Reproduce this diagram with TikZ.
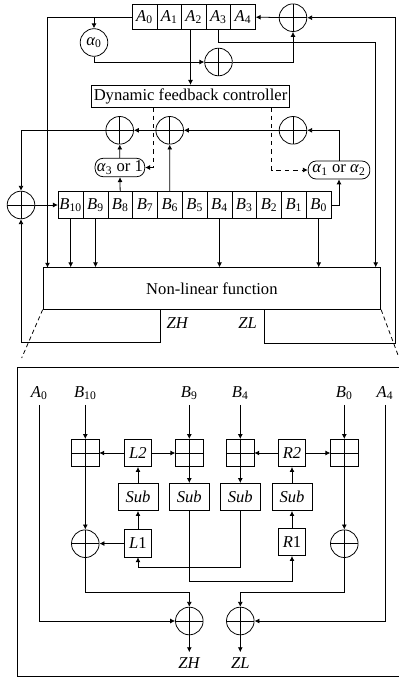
\documentclass[tikz,border=0pt]{standalone}
\usepackage{fontspec}
\setmainfont{Liberation Serif}
\usetikzlibrary{arrows.meta}
\newcommand{\Sb}[2]{\textit{#1}\textsubscript{#2}}
\tikzset{
  every node/.style={font=\fontsize{11.8}{14}\selectfont},
  every path/.style={line width=0.55pt},
  >={Latex[length=3.5pt,width=3.5pt]},
  cella/.style={draw,inner sep=0pt,minimum width=0.615cm,minimum height=0.625cm},
  cellb/.style={draw,inner sep=0pt,minimum width=0.62cm,minimum height=0.665cm},
  xor/.style={draw,circle,inner sep=0pt,minimum size=0.69cm,path picture={
    \draw (path picture bounding box.north) -- (path picture bounding box.south);
    \draw (path picture bounding box.west) -- (path picture bounding box.east);}},
  addbox/.style={draw,inner sep=0pt,minimum size=0.68cm,path picture={
    \draw (path picture bounding box.north) -- (path picture bounding box.south);
    \draw (path picture bounding box.west) -- (path picture bounding box.east);}},
  keybox/.style={draw,inner sep=0pt,minimum size=0.68cm},
  subbox/.style={draw,inner sep=0pt,minimum width=1cm,minimum height=0.68cm},
  mulbox/.style={draw,inner sep=0pt,rounded corners=2mm},
  zoomline/.style={dash pattern=on 3pt off 2.2pt}
}
\begin{document}
\begin{tikzpicture}[x=0.025cm,y=-0.025cm]
      \useasboundingbox (0,0) rectangle (399,680);

      \node[cella] (a0) at (144.6,17){\Sb{A}{0}};
      \node[cella] (a1) at (169.2,17){\Sb{A}{1}};
      \node[cella] (a2) at (193.8,17){\Sb{A}{2}};
      \node[cella] (a3) at (218.4,17){\Sb{A}{3}};
      \node[cella] (a4) at (243,17){\Sb{A}{4}};

      \node[cellb] (b10) at (70.7,205){\Sb{B}{10}};
      \node[cellb] (b9) at (95.5,205){\Sb{B}{9}};
      \node[cellb] (b8) at (120.3,205){\Sb{B}{8}};
      \node[cellb] (b7) at (145.1,205){\Sb{B}{7}};
      \node[cellb] (b6) at (169.9,205){\Sb{B}{6}};
      \node[cellb] (b5) at (194.7,205){\Sb{B}{5}};
      \node[cellb] (b4) at (219.5,205){\Sb{B}{4}};
      \node[cellb] (b3) at (244.3,205){\Sb{B}{3}};
      \node[cellb] (b2) at (269.1,205){\Sb{B}{2}};
      \node[cellb] (b1) at (293.9,205){\Sb{B}{1}};
      \node[cellb] (b0) at (318.7,205){\Sb{B}{0}};

      \node[xor] (xort) at (293,17.7){};
      \node[xor] (xors) at (218.5,62){};
      \node[xor] (xorl) at (119.7,130.3){};
      \node[xor] (xorm) at (169.7,130.3){};
      \node[xor] (xorr) at (293,130.3){};
      \node[xor] (xorb) at (21,205){};
      \node[draw,circle,inner sep=0pt,minimum size=0.69cm] (alpha0) at (94,42.5){\textit{α}\textsubscript{0}};
      \node[draw,inner sep=0pt,minimum width=4.96cm,minimum height=0.55cm] (ctrl) at (190.5,96.3){Dynamic feedback controller};
      \node[mulbox,minimum width=1.24cm,minimum height=0.46cm] (alpha3) at (119.9,167.5){\Sb{α}{3} or 1};
      \node[mulbox,minimum width=1.54cm,minimum height=0.45cm] (alpha1) at (339,170){\Sb{α}{1} or \Sb{α}{2}};
      \node[draw,inner sep=0pt,minimum width=8.44cm,minimum height=1.04cm] (nlf) at (211.9,288.5){Non-linear function};
      \node (zhtop) at (177.7,323.3){\textit{ZH}};
      \node (zltop) at (247.7,323.3){\textit{ZL}};

      \coordinate (in0) at (47.5,267.7);
      \coordinate (a3r) at (375.7,42.3);
      \coordinate (dash1) at (153,107.3);
      \coordinate (dash2) at (271.7,107.3);
      \coordinate (zh) at (160.3,309.3);
      \coordinate (zhl) at (21,342.3);
      \coordinate (zl) at (264.3,309.3);
      \coordinate (zlr) at (395.7,343.3);
      \coordinate (zoom1) at (21.7,358);
      \coordinate (zoom2) at (398,355);

      \draw[->] (xort) -- (a4);
      \draw[->] (a0.west) -| (in0);
      \draw[->] (alpha0 |- a0.west) -- (alpha0);
      \draw[->] (alpha0) |- (xors);
      \draw[->] (xors) -| (xort);
      \draw[->] (a2.south -| ctrl.north) -- (ctrl.north);
      \draw[->] (a3.south) |- (a3r) -- (a3r |- nlf.north);
      \draw[->] (zl) |- (zlr) |- (xort);
      \draw[->] (zh) |- (zhl) -- (xorb);
      \draw[->] (xorr) -- (xorm);
      \draw[->] (xorm) -- (xorl);
      \draw[->] (xorl) -| (xorb);
      \draw[->] (xorb) -- (b10);
      \draw[->] (alpha3) -- (xorl);
      \draw[->] (b8) -- (alpha3);
      \draw[->] (b6) -- (xorm);
      \draw[->] (alpha1) |- (xorr);
      \draw[->] (b0.east) -| (alpha1);
      \draw[->,dashed] (dash1) |- (alpha3);
      \draw[->,dashed] (dash2) |- (alpha1);
      \draw[->] (b10) -- (b10 |- nlf.north);
      \draw[->] (b9) -- (b9 |- nlf.north);
      \draw[->] (b4) -- (b4 |- nlf.north);
      \draw[->] (b0) -- (b0 |- nlf.north);
      \draw[zoomline] (nlf.south west) -- (zoom1);
      \draw[zoomline] (nlf.south east) -- (zoom2);

      \coordinate (box1) at (399,367.3);
      \coordinate (box2) at (17.3,367.3);
      \coordinate (box3) at (17.3,676);
      \coordinate (box4) at (399,676);
      \draw (box1) -- (box2) -- (box3) -- (box4);

      \node (la0) at (39.3,393){\Sb{A}{0}};
      \node (lb10) at (85.3,393){\Sb{B}{10}};
      \node (lb9) at (189.3,393){\Sb{B}{9}};
      \node (lb4) at (240.3,393){\Sb{B}{4}};
      \node (lb0) at (344.3,393){\Sb{B}{0}};
      \node (la4) at (385,393){\Sb{A}{4}};

      \node[addbox] (add1) at (85.3,453){};
      \node[addbox] (add2) at (189.3,453){};
      \node[addbox] (add3) at (240.3,453){};
      \node[addbox] (add4) at (344.3,453){};
      \node[keybox] (l2) at (138,453){\textit{L2}};
      \node[keybox] (r2) at (292,453){\textit{R2}};
      \node[subbox] (sub1) at (138,497){\textit{Sub}};
      \node[subbox] (sub2) at (189.3,497){\textit{Sub}};
      \node[subbox] (sub3) at (240.3,497){\textit{Sub}};
      \node[subbox] (sub4) at (292,497){\textit{Sub}};
      \node[keybox] (l1) at (138,543.3){\textit{L}1};
      \node[keybox] (r1) at (292,542){\textit{R}1};
      \node[xor] (xor1) at (85.3,543.7){};
      \node[xor] (xor2) at (344.3,543.7){};
      \node[xor] (xor3) at (189.3,621){};
      \node[xor] (xor4) at (240.3,621){};
      \node (lzh) at (189.3,662.7){\textit{ZH}};
      \node (lzl) at (240.3,662.7){\textit{ZL}};

      \coordinate (m1) at (240.3,567.7);
      \coordinate (m2) at (189.3,581);
      \coordinate (m3) at (189.3,592.3);
      \coordinate (m4) at (240.3,592.3);

      \draw[->] (lb10) -- (add1);
      \draw[->] (lb9) -- (add2);
      \draw[->] (lb4) -- (add3);
      \draw[->] (lb0) -- (add4);
      \draw[->] (add1) -- (xor1);
      \draw[->] (add2) -- (sub2);
      \draw[->] (add3) -- (sub3);
      \draw[->] (add4) -- (xor2);
      \draw[->] (l2) -- (add1);
      \draw[->] (l2) -- (add2);
      \draw[->] (r2) -- (add3);
      \draw[->] (r2) -- (add4);
      \draw[->] (sub1) -- (l2);
      \draw[->] (sub4) -- (r2);
      \draw[->] (l1) -- (sub1);
      \draw[->] (r1) -- (sub4);
      \draw[->] (l1) -- (xor1);
      \draw[->] (sub3) -- (m1) -| (l1);
      \draw[->] (sub2) -- (m2) -| (r1);
      \draw[->] (xor1) |- (m3) -- (xor3);
      \draw[->] (xor2) |- (m4) -- (xor4);
      \draw[->] (la0) |- (xor3);
      \draw[->] (la4) |- (xor4);
      \draw[->] (xor3) -- (lzh);
      \draw[->] (xor4) -- (lzl);
    \end{tikzpicture}
\end{document}
